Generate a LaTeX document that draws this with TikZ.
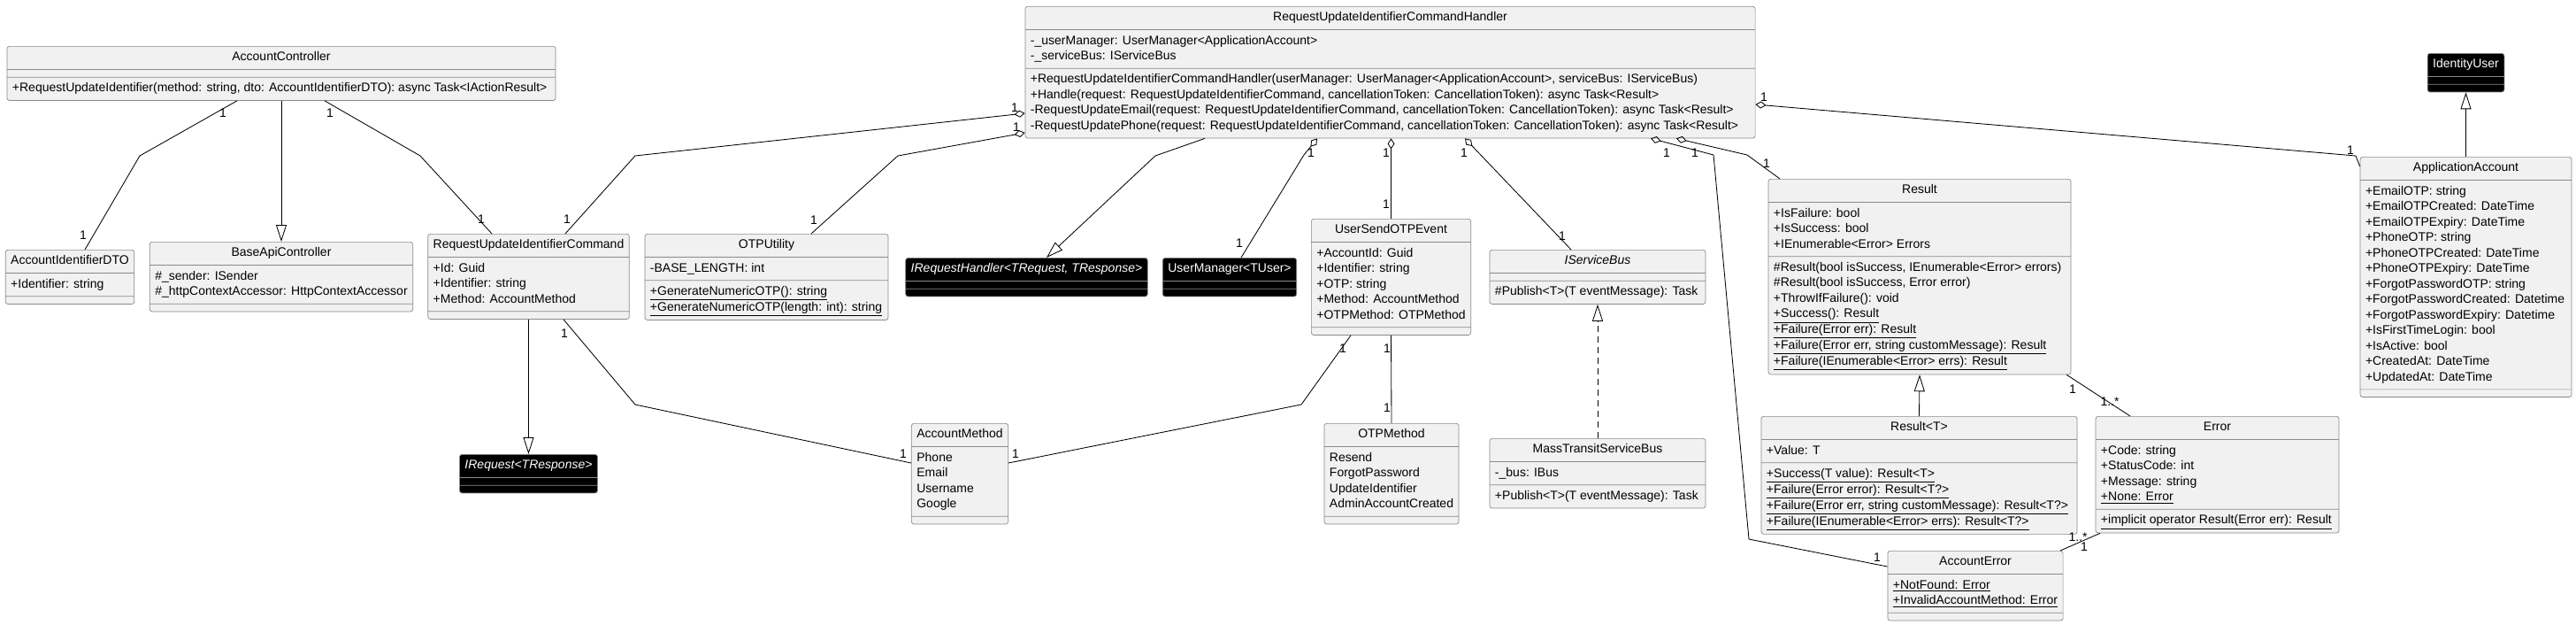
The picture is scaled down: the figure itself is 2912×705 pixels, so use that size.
\documentclass[tikz,border=0pt]{standalone}
\usepackage{fontspec}
\setmainfont{Liberation Sans}
\usepackage{tikz}
\usetikzlibrary{shapes.multipart}
\usetikzlibrary{arrows.meta}
\definecolor{boxfill}{HTML}{F1F1F1}
\definecolor{boxline}{HTML}{8A8A8A}
\newcommand{\rows}[1]{\begin{tabular}{@{}l@{}}#1\end{tabular}}
\newcommand{\emptyrow}{\rule{0.1pt}{0pt}}
\tikzset{umlclass/.style={rectangle split, rectangle split parts=3,
   rectangle split ignore empty parts=false,
   rectangle split part align={center,left,left},
   draw=boxline, line width=0.5pt, fill=boxfill, rounded corners=2pt,
   inner xsep=0.15cm, inner ysep=0.1cm, anchor=north,
   font=\fontsize{9.96pt}{12.45pt}\selectfont},
 extclass/.style={umlclass, fill=black, text=white},
 mult/.style={font=\fontsize{9.96pt}{12.45pt}\selectfont, inner sep=0pt},
 assoc/.style={draw, line width=0.6pt},
 aggr/.style={assoc, {Diamond[open,length=0.3cm,width=0.2cm]}-},
 inherit/.style={assoc, -{Triangle[open,length=0.475cm,width=0.3cm]}},
 realize/.style={inherit, dash pattern=on 0.175cm off 0.125cm},
}

\begin{document}
\begin{tikzpicture}[x=0.025cm, y=-0.025cm]
\useasboundingbox[fill=white] (0,0) rectangle (2912,705);

\node[umlclass, minimum width=15.5cm] (ctrl) at (318,52) {\strut AccountController
  \nodepart{two}\emptyrow \nodepart{three} \rows{+RequestUpdateIdentifier(method: string, dto: AccountIdentifierDTO): async Task<IActionResult>}};
\node[umlclass, minimum width=3.5cm] (dto) at (79,282) {\strut AccountIdentifierDTO
  \nodepart{two} \rows{+Identifier: string} \nodepart{three}\emptyrow};
\node[umlclass, minimum width=7.4cm] (base) at (318,273) {\strut BaseApiController
  \nodepart{two} \rows{\#\_sender: ISender\\ \#\_httpContextAccessor: HttpContextAccessor} \nodepart{three}\emptyrow};
\node[umlclass, minimum width=5.525cm] (cmd) at (597.5,264) {\strut RequestUpdateIdentifierCommand
  \nodepart{two} \rows{+Id: Guid\\ +Identifier: string\\ +Method: AccountMethod} \nodepart{three}\emptyrow};
\node[extclass, minimum width=3.775cm] (ireq) at (597.5,513) {\strut\itshape IRequest<TResponse>
  \nodepart{two}\emptyrow \nodepart{three}\emptyrow};
\node[umlclass, minimum width=6.875cm] (otp) at (866.5,264) {\strut OTPUtility
  \nodepart{two} \rows{-BASE\_LENGTH: int}
  \nodepart{three} \rows{\underline{+GenerateNumericOTP(): string}\\ \underline{+GenerateNumericOTP(length: int): string}}};
\node[extclass, minimum width=6.775cm] (ihandler) at (1160.5,291) {\strut\itshape IRequestHandler<TRequest, TResponse>
  \nodepart{two}\emptyrow \nodepart{three}\emptyrow};
\node[extclass, minimum width=3.6cm] (umgr) at (1390,291) {\strut UserManager<TUser>
  \nodepart{two}\emptyrow \nodepart{three}\emptyrow};
\node[umlclass, minimum width=4.475cm] (event) at (1572.5,247) {\strut UserSendOTPEvent
  \nodepart{two} \rows{+AccountId: Guid\\ +Identifier: string\\ +OTP: string\\ +Method: AccountMethod\\ +OTPMethod: OTPMethod}
  \nodepart{three}\emptyrow};
\node[umlclass, minimum width=6.1cm] (isb) at (1806,282) {\strut\itshape IServiceBus
  \nodepart{two}\emptyrow \nodepart{three} \rows{\#Publish<T>(T eventMessage): Task}};
\node[umlclass, minimum width=6.1cm] (mtsb) at (1806,495) {\strut MassTransitServiceBus
  \nodepart{two} \rows{-\_bus: IBus} \nodepart{three} \rows{+Publish<T>(T eventMessage): Task}};
\node[umlclass, minimum width=2.6cm] (acctmethod) at (1085,478) {\strut AccountMethod
  \nodepart{two} \rows{Phone\\ Email\\ Username\\ Google} \nodepart{three}\emptyrow};
\node[umlclass, minimum width=3.8cm] (otpmethod) at (1573,478) {\strut OTPMethod
  \nodepart{two} \rows{Resend\\ ForgotPassword\\ UpdateIdentifier\\ AdminAccountCreated} \nodepart{three}\emptyrow};
\node[umlclass, minimum width=20.625cm] (handler) at (1571.5,7) {\strut RequestUpdateIdentifierCommandHandler
  \nodepart{two} \rows{-\_userManager: UserManager<ApplicationAccount>\\ -\_serviceBus: IServiceBus}
  \nodepart{three} \rows{+RequestUpdateIdentifierCommandHandler(userManager: UserManager<ApplicationAccount>, serviceBus: IServiceBus)\\
    +Handle(request: RequestUpdateIdentifierCommand, cancellationToken: CancellationToken): async Task<Result>\\
    -RequestUpdateEmail(request: RequestUpdateIdentifierCommand, cancellationToken: CancellationToken): async Task<Result>\\
    -RequestUpdatePhone(request: RequestUpdateIdentifierCommand, cancellationToken: CancellationToken): async Task<Result>}};
\node[umlclass, minimum width=8.55cm] (result) at (2170,202) {\strut Result
  \nodepart{two} \rows{+IsFailure: bool\\ +IsSuccess: bool\\ +IEnumerable<Error> Errors}
  \nodepart{three} \rows{\#Result(bool isSuccess, IEnumerable<Error> errors)\\ \#Result(bool isSuccess, Error error)\\
    +ThrowIfFailure(): void\\ \underline{+Success(): Result}\\ \underline{+Failure(Error err): Result}\\
    \underline{+Failure(Error err, string customMessage): Result}\\ \underline{+Failure(IEnumerable<Error> errs): Result}}};
\node[umlclass, minimum width=8.925cm] (resultt) at (2169.5,470) {\strut Result<T>
  \nodepart{two} \rows{+Value: T}
  \nodepart{three} \rows{\underline{+Success(T value): Result<T>}\\ \underline{+Failure(Error error): Result<T?>}\\
    \underline{+Failure(Error err, string customMessage): Result<T?>}\\ \underline{+Failure(IEnumerable<Error> errs): Result<T?>}}};
\node[umlclass, minimum width=6.875cm] (error) at (2506.5,470) {\strut Error
  \nodepart{two} \rows{+Code: string\\ +StatusCode: int\\ +Message: string\\ \underline{+None: Error}}
  \nodepart{three} \rows{\underline{+implicit operator Result(Error err): Result}}};
\node[umlclass, minimum width=4.95cm] (accerr) at (2233,622) {\strut AccountError
  \nodepart{two} \rows{\underline{+NotFound: Error}\\ \underline{+InvalidAccountMethod: Error}} \nodepart{three}\emptyrow};
\node[umlclass, minimum width=5.975cm] (appacc) at (2787.5,177) {\strut ApplicationAccount
  \nodepart{two} \rows{+EmailOTP: string\\ +EmailOTPCreated: DateTime\\ +EmailOTPExpiry: DateTime\\ +PhoneOTP: string\\
    +PhoneOTPCreated: DateTime\\ +PhoneOTPExpiry: DateTime\\ +ForgotPasswordOTP: string\\ +ForgotPasswordCreated: Datetime\\
    +ForgotPasswordExpiry: Datetime\\ +IsFirstTimeLogin: bool\\ +IsActive: bool\\ +CreatedAt: DateTime\\ +UpdatedAt: DateTime}
  \nodepart{three}\emptyrow};
\node[extclass, minimum width=1.975cm] (iuser) at (2787.5,60) {\strut IdentityUser
  \nodepart{two}\emptyrow \nodepart{three}\emptyrow};

\draw[assoc] (ctrl.south -| 268,0) -- (158,176) -- (dto.north -| 96,0);
\draw[inherit] (ctrl.south -| base.north) -- (base.north);
\draw[assoc] (ctrl.south -| 367,0) -- (475,176) -- (cmd.north -| 556,0);
\draw[aggr] (handler.west |- 0,128) -- (718,176) -- (cmd.north -| 639,0);
\draw[aggr] (handler.west |- 0,150) -- (1015,176) -- (otp.north -| 917,0);
\draw[inherit] (handler.south -| 1362,0) -- (1306,176) -- (ihandler.north -| 1183,0);
\draw[aggr] (handler.south -| 1489,0) -- (1474,175) -- (umgr.north -| 1403,0);
\draw[aggr] (handler.south -| event.north) -- (event.north);
\draw[aggr] (handler.south -| 1656,0) -- (isb.north -| 1776,0);
\draw[aggr] (handler.south -| 1866,0) -- (1937,175) -- (1977,609) -- (accerr.west |- 0,640);
\draw[aggr] (handler.south -| 1895,0) -- (1975,175) -- (result.north -| 2012,0);
\draw[aggr] (handler.east |- 0,118) -- (2663,176) -- (appacc.west |- 0,188);
\draw[inherit] (appacc.north) -- (iuser.south);
\draw[inherit] (cmd.south) -- (ireq.north);
\draw[assoc] (cmd.south -| 637,0) -- (718,457) -- (acctmethod.west |- 0,523);
\draw[assoc] (event.south -| 1527,0) -- (1471,457) -- (acctmethod.east |- 0,523);
\draw[assoc] (event.south) -- (otpmethod.north);
\draw[realize] (mtsb.north) -- (isb.south);
\draw[inherit] (resultt.north) -- (result.south);
\draw[assoc] (result.south -| 2336,0) -- (error.north -| 2408,0);
\draw[assoc] (accerr.north -| 2329,0) -- (error.south -| 2374,0);

\foreach \mx/\my/\mt [count=\i] in {252/128/1, 94/266/1, 373/128/1, 544/248/1, 1147/122/1, 641/248/1,
    1149/144/1, 920/249/1, 1482/173/1, 1401/275/1, 1567/173/1, 1567/231/1, 1655/173/1, 1766/267/1,
    1884/173/1, 2122/630/1, 1916/173/1, 1997/185/1, 1994/110/1, 2657/170/1, 638/377/1, 1021/513/1,
    1518/394/1, 1148/513/1, 1568/394/1, 1568/461/1, 2343/440/1, 2385/454/{1..*}, 2349/607/{1..*}, 2356/618/1}
  \node[mult] (m\i) at (\mx,\my) {\mt};
\end{tikzpicture}
\end{document}
